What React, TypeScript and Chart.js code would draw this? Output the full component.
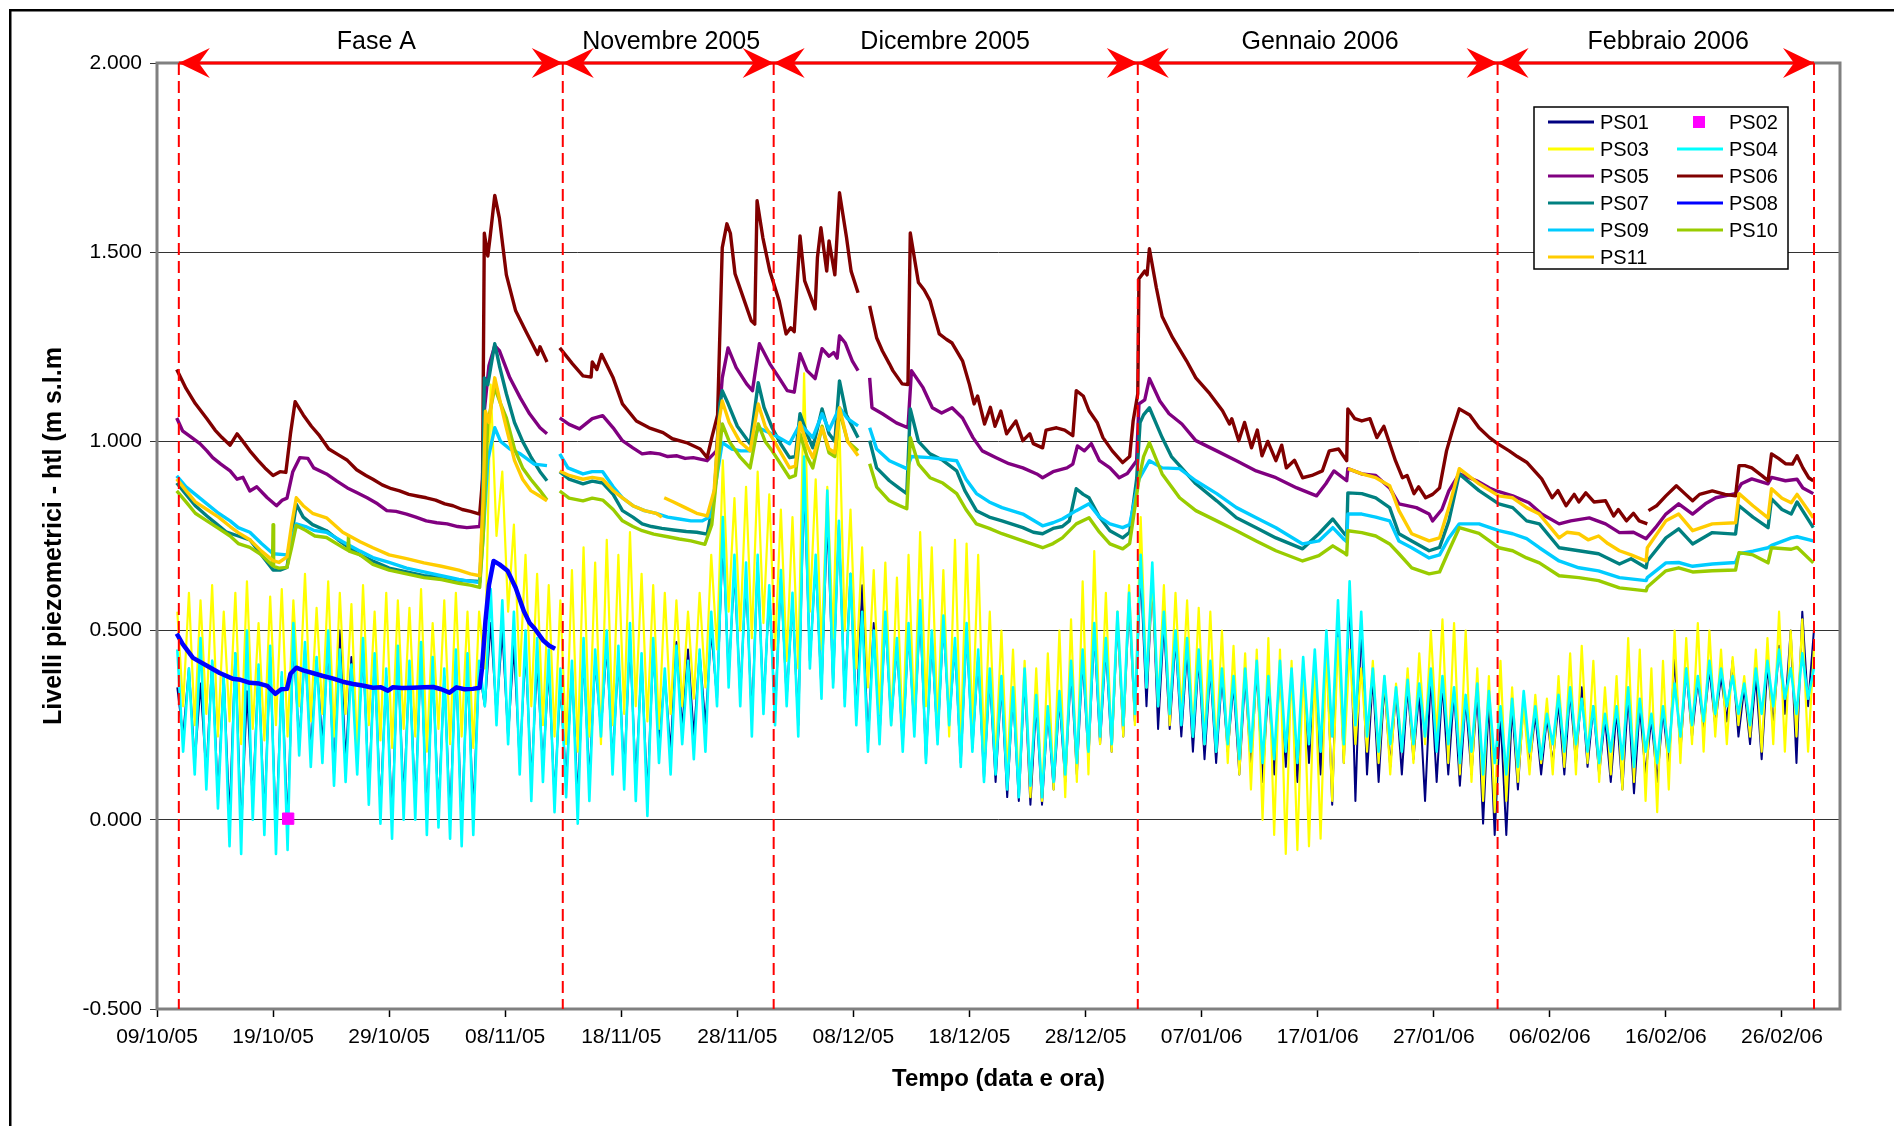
import React, { useEffect, useRef } from 'react';
import { Chart, registerables } from 'chart.js';

Chart.register(...registerables);

// ---------- axis / annotation data ----------
const BASE_DATE = Date.UTC(2005, 9, 9); // day 0 = 09/10/05
const X_MIN = 0;
const X_MAX = 145;
const X_TICKS = [0, 10, 20, 30, 40, 50, 60, 70, 80, 90, 100, 110, 120, 130, 140];
const Y_MIN = -0.5;
const Y_MAX = 2.0;
const Y_STEP = 0.5;

const SECTION_BOUNDS = [1.88, 34.96, 53.13, 84.5, 115.5, 142.76];
const SECTION_LABELS = ['Fase A', 'Novembre 2005', 'Dicembre 2005', 'Gennaio 2006', 'Febbraio 2006'];
const SECTION_LABEL_DAYS = [18.9, 44.3, 67.9, 100.2, 130.2];

const X_TITLE = 'Tempo (data e ora)';
const Y_TITLE = 'Livelli piezometrici - htl (m s.l.m';

// ---------- oscillating series: 12-hourly readings (peak, trough, ...) ----------
const OSC_START = 1.75;
const OSC_STEP = 0.5;

const ps01 = [
  0.35, 0.22, 0.40, 0.15, 0.36, 0.12, 0.42, 0.06, 0.38, 0.00, 0.44, -0.03, 0.34, 0.05, 0.40, 0.00, 0.43, -0.04, 0.38, -0.02,
  0.48, 0.20, 0.45, 0.18, 0.42, 0.20, 0.47, 0.12, 0.50, 0.15, 0.43, 0.18, 0.45, 0.08, 0.42, 0.03, 0.38, 0.00, 0.43, 0.05,
  0.40, 0.04, 0.44, 0.00, 0.41, 0.02, 0.38, 0.00, 0.42, -0.02, 0.40, 0.02, 0.40, 0.30, 0.52, 0.28, 0.50, 0.22, 0.46, 0.15,
  0.45, 0.10, 0.42, 0.14, 0.40, 0.06, 0.36, 0.10, 0.40, 0.05, 0.44, 0.10, 0.42, 0.24, 0.46, 0.15, 0.43, 0.12, 0.48, 0.10,
  0.42, 0.06, 0.45, 0.20, 0.38, 0.18, 0.47, 0.24, 0.45, 0.22, 0.44, 0.25, 0.50, 0.32, 0.75, 0.38, 0.66, 0.33, 0.64, 0.26,
  0.68, 0.30, 0.60, 0.28, 0.64, 0.32, 0.58, 0.25, 0.90, 0.42, 0.68, 0.34, 0.80, 0.36, 0.78, 0.32, 0.65, 0.27, 0.62, 0.20,
  0.52, 0.22, 0.53, 0.26, 0.46, 0.20, 0.50, 0.24, 0.55, 0.16, 0.48, 0.21, 0.52, 0.26, 0.46, 0.15, 0.50, 0.19, 0.43, 0.11,
  0.38, 0.10, 0.36, 0.06, 0.34, 0.05, 0.38, 0.04, 0.31, 0.04, 0.29, 0.08, 0.32, 0.10, 0.40, 0.12, 0.43, 0.16, 0.50, 0.20,
  0.46, 0.18, 0.53, 0.22, 0.58, 0.26, 0.66, 0.30, 0.64, 0.24, 0.52, 0.24, 0.48, 0.22, 0.45, 0.18, 0.43, 0.16, 0.40, 0.15,
  0.38, 0.18, 0.36, 0.12, 0.38, 0.14, 0.40, 0.10, 0.36, 0.12, 0.40, 0.14, 0.38, 0.10, 0.41, 0.15, 0.43, 0.12, 0.48, 0.04,
  0.55, 0.15, 0.60, 0.05, 0.52, 0.12, 0.38, 0.10, 0.36, 0.14, 0.34, 0.12, 0.35, 0.16, 0.34, 0.05, 0.38, 0.10, 0.36, 0.12,
  0.34, 0.09, 0.32, 0.12, 0.34, -0.01, 0.32, -0.04, 0.28, -0.04, 0.30, 0.08, 0.32, 0.14, 0.28, 0.12, 0.27, 0.15, 0.31, 0.12,
  0.34, 0.15, 0.35, 0.14, 0.30, 0.12, 0.27, 0.10, 0.29, 0.08, 0.33, 0.07, 0.30, 0.12, 0.27, 0.10, 0.29, 0.14, 0.43, 0.18,
  0.40, 0.22, 0.37, 0.24, 0.40, 0.25, 0.38, 0.26, 0.42, 0.22, 0.35, 0.20, 0.38, 0.16, 0.41, 0.25, 0.46, 0.28, 0.50, 0.15,
  0.55, 0.30, 0.50,
];

const ps03 = [
  0.55, 0.30, 0.60, 0.25, 0.58, 0.28, 0.62, 0.22, 0.55, 0.26, 0.60, 0.20, 0.63, 0.24, 0.52, 0.21, 0.59, 0.25, 0.61, 0.22,
  0.58, 0.30, 0.65, 0.26, 0.56, 0.28, 0.63, 0.22, 0.60, 0.28, 0.57, 0.18, 0.62, 0.25, 0.55, 0.21, 0.60, 0.19, 0.58, 0.24,
  0.56, 0.22, 0.61, 0.18, 0.52, 0.24, 0.58, 0.20, 0.60, 0.22, 0.55, 0.19, 0.55, 0.40, 1.15, 0.75, 0.92, 0.55, 0.78, 0.38,
  0.70, 0.30, 0.65, 0.25, 0.62, 0.22, 0.58, 0.20, 0.66, 0.18, 0.72, 0.22, 0.68, 0.20, 0.74, 0.25, 0.70, 0.28, 0.76, 0.30,
  0.65, 0.26, 0.62, 0.24, 0.60, 0.28, 0.58, 0.30, 0.55, 0.32, 0.60, 0.35, 0.70, 0.45, 0.95, 0.55, 0.85, 0.50, 0.88, 0.48,
  0.92, 0.52, 0.86, 0.45, 0.82, 0.42, 0.80, 0.40, 1.18, 0.55, 0.90, 0.45, 0.88, 0.48, 1.09, 0.50, 0.82, 0.40, 0.72, 0.35,
  0.66, 0.28, 0.68, 0.25, 0.64, 0.22, 0.70, 0.26, 0.76, 0.30, 0.72, 0.25, 0.66, 0.22, 0.74, 0.20, 0.73, 0.24, 0.70, 0.18,
  0.55, 0.15, 0.50, 0.12, 0.45, 0.08, 0.42, 0.06, 0.40, 0.05, 0.44, 0.08, 0.50, 0.06, 0.53, 0.10, 0.63, 0.12, 0.71, 0.20,
  0.60, 0.18, 0.55, 0.22, 0.62, 0.25, 0.80, 0.35, 0.64, 0.30, 0.62, 0.25, 0.60, 0.28, 0.58, 0.22, 0.56, 0.20, 0.55, 0.18,
  0.50, 0.15, 0.46, 0.12, 0.44, 0.08, 0.45, 0.00, 0.48, -0.04, 0.45, -0.09, 0.42, -0.08, 0.42, -0.07, 0.40, -0.05, 0.45, 0.05,
  0.48, 0.15, 0.45, 0.20, 0.40, 0.18, 0.42, 0.15, 0.38, 0.12, 0.36, 0.18, 0.40, 0.15, 0.44, 0.20, 0.50, 0.22, 0.53, 0.15,
  0.52, 0.12, 0.50, 0.10, 0.40, 0.05, 0.38, 0.02, 0.42, 0.05, 0.35, 0.10, 0.30, 0.12, 0.33, 0.15, 0.32, 0.12, 0.38, 0.14,
  0.44, 0.12, 0.46, 0.15, 0.42, 0.10, 0.35, 0.12, 0.38, 0.08, 0.48, 0.10, 0.45, 0.05, 0.40, 0.02, 0.42, 0.08, 0.50, 0.15,
  0.48, 0.20, 0.52, 0.18, 0.50, 0.22, 0.45, 0.20, 0.43, 0.25, 0.38, 0.22, 0.45, 0.18, 0.48, 0.20, 0.55, 0.18, 0.50, 0.22,
  0.53, 0.18, 0.45,
];

const ps04 = [
  0.45, 0.18, 0.40, 0.12, 0.48, 0.08, 0.42, 0.03, 0.38, -0.07, 0.44, -0.09, 0.50, 0.00, 0.41, -0.04, 0.46, -0.09, 0.39, -0.08,
  0.52, 0.17, 0.47, 0.14, 0.43, 0.15, 0.50, 0.09, 0.45, 0.10, 0.41, 0.12, 0.48, 0.04, 0.44, -0.01, 0.40, -0.05, 0.46, 0.00,
  0.42, 0.00, 0.47, -0.04, 0.43, -0.02, 0.40, -0.05, 0.45, -0.07, 0.44, -0.04, 0.42, 0.30, 0.61, 0.25, 0.58, 0.20, 0.55, 0.12,
  0.50, 0.05, 0.48, 0.10, 0.45, 0.02, 0.40, 0.06, 0.42, -0.01, 0.48, 0.05, 0.45, 0.22, 0.50, 0.12, 0.46, 0.08, 0.52, 0.05,
  0.44, 0.01, 0.48, 0.15, 0.40, 0.12, 0.46, 0.20, 0.42, 0.16, 0.45, 0.18, 0.55, 0.30, 0.80, 0.35, 0.70, 0.30, 0.68, 0.22,
  0.70, 0.28, 0.62, 0.25, 0.66, 0.30, 0.60, 0.22, 0.96, 0.40, 0.70, 0.32, 0.87, 0.35, 0.79, 0.30, 0.65, 0.25, 0.55, 0.18,
  0.50, 0.20, 0.55, 0.25, 0.48, 0.18, 0.52, 0.22, 0.58, 0.15, 0.50, 0.20, 0.54, 0.25, 0.48, 0.14, 0.52, 0.18, 0.45, 0.10,
  0.40, 0.12, 0.38, 0.08, 0.35, 0.06, 0.40, 0.09, 0.33, 0.06, 0.30, 0.10, 0.34, 0.12, 0.42, 0.15, 0.45, 0.18, 0.52, 0.22,
  0.48, 0.20, 0.55, 0.25, 0.60, 0.28, 0.70, 0.35, 0.68, 0.30, 0.55, 0.28, 0.50, 0.25, 0.48, 0.22, 0.45, 0.20, 0.42, 0.18,
  0.40, 0.20, 0.38, 0.16, 0.40, 0.18, 0.42, 0.15, 0.38, 0.16, 0.42, 0.18, 0.40, 0.15, 0.43, 0.20, 0.45, 0.18, 0.50, 0.22,
  0.58, 0.20, 0.63, 0.25, 0.55, 0.22, 0.40, 0.18, 0.38, 0.20, 0.35, 0.18, 0.37, 0.20, 0.36, 0.22, 0.40, 0.18, 0.38, 0.20,
  0.35, 0.15, 0.33, 0.18, 0.36, 0.12, 0.34, 0.15, 0.30, 0.12, 0.32, 0.14, 0.34, 0.18, 0.30, 0.16, 0.28, 0.20, 0.33, 0.18,
  0.35, 0.20, 0.32, 0.18, 0.30, 0.15, 0.28, 0.18, 0.30, 0.16, 0.35, 0.14, 0.32, 0.18, 0.28, 0.15, 0.30, 0.18, 0.36, 0.22,
  0.40, 0.25, 0.38, 0.26, 0.42, 0.28, 0.40, 0.30, 0.38, 0.28, 0.36, 0.25, 0.40, 0.28, 0.42, 0.30, 0.45, 0.32, 0.40, 0.28,
  0.44, 0.32, 0.40,
];

// ---------- single reading ----------
const ps02: [number, number][] = [[11.3, 0.003]];

// ---------- smooth series: [day, level] ----------
const ps05: [number, number | null][] = [
  [1.7, 1.062], [2.2, 1.028], [3.0, 1.01], [3.7, 0.994], [4.3, 0.975], [4.8, 0.957], [5.5, 0.94], [6.3, 0.922], [6.9, 0.9], [7.4, 0.905],
  [8.0, 0.869], [8.6, 0.88], [9.5, 0.851], [10.3, 0.83], [10.8, 0.845], [11.2, 0.85], [11.7, 0.92], [12.3, 0.957], [13.0, 0.955], [13.5, 0.93],
  [14.6, 0.914], [15.5, 0.895], [16.4, 0.877], [17.2, 0.865], [18.1, 0.851], [19.0, 0.835], [19.8, 0.817], [20.6, 0.815], [21.5, 0.808], [22.3, 0.8],
  [23.2, 0.79], [24.1, 0.785], [25.0, 0.782], [25.9, 0.775], [26.7, 0.772], [27.8, 0.775], [28.0, 0.85], [28.2, 1.081], [28.6, 1.2], [29.1, 1.253],
  [29.5, 1.24], [30.4, 1.168], [31.3, 1.115], [32.1, 1.073], [33.0, 1.036], [33.6, 1.02], [34.1, null], [34.7, 1.062], [35.5, 1.045], [36.4, 1.033],
  [37.5, 1.06], [38.4, 1.068], [39.3, 1.036], [40.1, 1.002], [41.0, 0.983], [41.8, 0.967], [42.5, 0.97], [43.3, 0.967], [44.0, 0.96], [44.8, 0.962],
  [45.5, 0.955], [46.2, 0.957], [47.4, 0.949], [48.2, 0.975], [48.7, 1.168], [49.2, 1.247], [49.9, 1.195], [50.8, 1.152], [51.3, 1.134], [51.9, 1.258],
  [52.8, 1.205], [53.6, 1.168], [54.3, 1.134], [54.9, 1.13], [55.4, 1.232], [56.0, 1.187], [56.7, 1.166], [57.3, 1.245], [57.9, 1.225], [58.3, 1.235],
  [58.6, 1.22], [58.8, 1.279], [59.3, 1.26], [59.9, 1.213], [60.4, 1.187], [60.9, null], [61.4, 1.168], [61.6, 1.089], [62.5, 1.073], [63.7, 1.049],
  [64.7, 1.036], [65.0, 1.187], [66.0, 1.142], [66.8, 1.089], [67.6, 1.075], [68.5, 1.089], [69.4, 1.062], [70.3, 1.01], [71.1, 0.975], [72.3, 0.957],
  [73.4, 0.941], [74.6, 0.93], [75.8, 0.914], [76.3, 0.904], [77.2, 0.92], [78.4, 0.93], [78.9, 0.94], [79.3, 0.988], [79.9, 0.975], [80.5, 0.994],
  [81.2, 0.949], [82.1, 0.93], [82.9, 0.904], [83.6, 0.915], [84.4, 0.949], [84.6, 1.099], [85.1, 1.11], [85.5, 1.166], [86.4, 1.107], [87.2, 1.073],
  [88.3, 1.046], [89.5, 1.002], [91.3, 0.975], [93.0, 0.949], [94.7, 0.922], [96.4, 0.904], [98.2, 0.877], [99.9, 0.856], [100.7, 0.888], [101.4, 0.922],
  [102.5, 0.896], [102.6, 0.928], [103.8, 0.914], [105.0, 0.91], [106.2, 0.877], [107.0, 0.835], [108.5, 0.825], [109.6, 0.808], [109.9, 0.79], [110.7, 0.82],
  [111.3, 0.869], [112.2, 0.914], [113.7, 0.896], [114.8, 0.877], [115.4, 0.869], [116.8, 0.856], [118.2, 0.838], [119.3, 0.808], [120.8, 0.782], [121.8, 0.79],
  [123.4, 0.798], [124.8, 0.782], [126.0, 0.759], [127.2, 0.76], [128.3, 0.743], [129.1, 0.772], [130.0, 0.808], [131.1, 0.835], [132.3, 0.808], [133.4, 0.835],
  [134.3, 0.851], [136.0, 0.862], [136.5, 0.888], [137.4, 0.901], [138.8, 0.888], [139.1, 0.905], [140.3, 0.896], [141.3, 0.9], [141.8, 0.877], [142.7, 0.862],
];

const ps06: [number, number | null][] = [
  [1.7, 1.19], [2.5, 1.14], [3.3, 1.1], [4.3, 1.06], [5.0, 1.03], [5.6, 1.01], [6.3, 0.99], [6.9, 1.02], [7.4, 1.0], [8.0, 0.975],
  [8.7, 0.95], [9.3, 0.93], [10.0, 0.91], [10.6, 0.92], [11.1, 0.918], [11.5, 1.02], [11.9, 1.105], [12.6, 1.07], [13.3, 1.04], [14.0, 1.015],
  [14.8, 0.98], [15.6, 0.965], [16.4, 0.95], [17.2, 0.925], [18.0, 0.91], [18.6, 0.9], [19.4, 0.885], [20.2, 0.875], [20.9, 0.869], [21.7, 0.86],
  [22.5, 0.855], [23.2, 0.851], [24.0, 0.845], [24.8, 0.835], [25.5, 0.83], [26.3, 0.82], [27.0, 0.815], [27.8, 0.808], [28.05, 0.9], [28.2, 1.55],
  [28.5, 1.49], [28.7, 1.54], [29.1, 1.65], [29.5, 1.59], [30.1, 1.44], [30.9, 1.345], [31.8, 1.29], [32.3, 1.26], [32.8, 1.23], [33.0, 1.25],
  [33.6, 1.21], [34.1, null], [34.7, 1.247], [35.8, 1.205], [36.7, 1.173], [37.4, 1.17], [37.5, 1.21], [37.9, 1.19], [38.3, 1.23], [39.3, 1.168],
  [40.1, 1.099], [41.3, 1.054], [42.4, 1.036], [43.6, 1.023], [44.4, 1.007], [45.6, 0.997], [46.8, 0.98], [47.4, 0.957], [47.8, 1.01], [48.3, 1.07],
  [48.7, 1.512], [49.1, 1.575], [49.4, 1.55], [49.8, 1.443], [50.6, 1.372], [51.2, 1.319], [51.5, 1.31], [51.7, 1.636], [52.2, 1.538], [52.8, 1.45],
  [53.6, 1.372], [54.2, 1.284], [54.6, 1.3], [54.9, 1.29], [55.4, 1.543], [55.8, 1.424], [56.7, 1.35], [56.9, 1.486], [57.2, 1.565], [57.7, 1.45],
  [57.9, 1.53], [58.4, 1.44], [58.8, 1.657], [59.4, 1.54], [59.8, 1.45], [60.4, 1.393], [60.9, null], [61.4, 1.358], [62.0, 1.274], [62.5, 1.239],
  [63.1, 1.205], [63.4, 1.187], [64.2, 1.152], [64.7, 1.15], [64.9, 1.551], [65.6, 1.42], [66.1, 1.4], [66.6, 1.372], [67.4, 1.284], [68.0, 1.27],
  [68.5, 1.26], [69.4, 1.213], [70.0, 1.15], [70.4, 1.099], [70.7, 1.12], [71.3, 1.046], [71.8, 1.09], [72.2, 1.04], [72.7, 1.08], [73.2, 1.02],
  [74.0, 1.054], [74.6, 1.002], [75.2, 1.02], [75.5, 0.994], [76.3, 0.983], [76.6, 1.03], [77.5, 1.036], [78.2, 1.03], [78.9, 1.015], [79.2, 1.134],
  [79.8, 1.12], [80.3, 1.081], [81.0, 1.05], [81.5, 1.01], [82.3, 0.975], [83.2, 0.944], [83.8, 0.96], [84.1, 1.054], [84.5, 1.126], [84.6, 1.43],
  [85.1, 1.45], [85.3, 1.44], [85.5, 1.509], [86.1, 1.406], [86.6, 1.33], [87.5, 1.274], [88.7, 1.213], [89.5, 1.168], [90.7, 1.126], [91.8, 1.081],
  [92.4, 1.046], [92.6, 1.06], [93.2, 1.002], [93.7, 1.05], [94.3, 0.983], [94.8, 1.03], [95.2, 0.962], [95.7, 1.0], [96.4, 0.949], [96.9, 0.99],
  [97.3, 0.93], [98.0, 0.95], [98.7, 0.904], [99.5, 0.91], [100.4, 0.922], [101.0, 0.975], [101.8, 0.98], [102.5, 0.949], [102.6, 1.086], [103.2, 1.06],
  [103.8, 1.054], [104.5, 1.06], [105.1, 1.01], [105.7, 1.04], [106.7, 0.949], [107.3, 0.904], [107.7, 0.91], [108.3, 0.862], [108.7, 0.88], [109.3, 0.851],
  [109.9, 0.86], [110.5, 0.877], [111.1, 0.975], [111.6, 1.028], [112.2, 1.086], [113.1, 1.07], [113.9, 1.036], [114.8, 1.01], [115.5, 0.994], [116.5, 0.975],
  [117.2, 0.96], [118.0, 0.945], [119.3, 0.901], [120.2, 0.851], [120.7, 0.87], [121.4, 0.83], [122.1, 0.86], [122.5, 0.84], [123.1, 0.864], [123.8, 0.84],
  [124.8, 0.843], [125.5, 0.803], [125.9, 0.82], [126.6, 0.79], [127.2, 0.81], [127.7, 0.79], [128.4, 0.782], [128.45, null], [128.5, 0.817], [129.2, 0.83],
  [130.0, 0.856], [130.9, 0.883], [131.7, 0.86], [132.3, 0.843], [132.9, 0.86], [134.0, 0.869], [135.1, 0.86], [136.0, 0.856], [136.3, 0.936], [136.8, 0.936],
  [137.4, 0.93], [138.3, 0.909], [138.8, 0.896], [139.1, 0.967], [139.7, 0.955], [140.3, 0.941], [140.9, 0.94], [141.3, 0.962], [141.8, 0.93], [142.3, 0.904],
  [142.7, 0.896],
];

const ps07: [number, number | null][] = [
  [1.7, 0.89], [2.5, 0.86], [3.3, 0.83], [4.3, 0.803], [5.2, 0.78], [6.0, 0.76], [7.0, 0.75], [8.0, 0.74], [9.0, 0.7], [10.0, 0.66],
  [10.6, 0.66], [11.2, 0.667], [11.6, 0.75], [12.0, 0.834], [12.6, 0.8], [13.4, 0.78], [14.6, 0.764], [15.6, 0.74], [16.5, 0.72], [17.5, 0.7],
  [18.6, 0.684], [20.0, 0.665], [21.5, 0.655], [23.0, 0.645], [24.5, 0.64], [25.5, 0.635], [26.5, 0.632], [27.8, 0.63], [28.0, 0.75], [28.2, 1.168],
  [28.5, 1.15], [29.1, 1.258], [29.5, 1.2], [30.1, 1.126], [30.8, 1.05], [31.5, 1.0], [32.2, 0.96], [33.0, 0.92], [33.6, 0.896], [34.1, null],
  [34.7, 0.92], [35.5, 0.9], [36.7, 0.888], [37.5, 0.895], [38.4, 0.89], [39.3, 0.86], [40.1, 0.817], [41.0, 0.8], [41.8, 0.782], [42.6, 0.775],
  [43.5, 0.77], [44.5, 0.766], [45.6, 0.762], [46.5, 0.76], [47.4, 0.755], [48.0, 0.85], [48.5, 1.1], [48.7, 1.134], [49.2, 1.1], [50.0, 1.04],
  [51.1, 0.994], [51.8, 1.155], [52.3, 1.09], [53.0, 1.036], [53.8, 0.99], [54.5, 0.957], [55.0, 0.96], [55.4, 1.073], [56.0, 1.02], [56.5, 0.983],
  [57.3, 1.086], [57.9, 1.02], [58.4, 1.0], [58.8, 1.16], [59.4, 1.07], [60.4, 1.01], [60.9, null], [61.4, 1.002], [62.0, 0.93], [63.1, 0.896],
  [64.0, 0.875], [64.6, 0.862], [64.9, 1.086], [65.6, 1.0], [66.6, 0.967], [67.7, 0.95], [68.9, 0.922], [69.6, 0.87], [70.6, 0.817], [71.7, 0.8],
  [72.8, 0.79], [73.8, 0.78], [74.6, 0.772], [75.5, 0.76], [76.3, 0.756], [77.2, 0.77], [78.0, 0.775], [78.6, 0.79], [79.2, 0.875], [79.8, 0.86],
  [80.3, 0.851], [81.2, 0.8], [82.1, 0.764], [83.2, 0.745], [83.8, 0.76], [84.4, 0.9], [84.7, 1.05], [85.0, 1.07], [85.5, 1.089], [86.6, 1.01],
  [87.4, 0.96], [88.1, 0.936], [89.5, 0.888], [91.3, 0.843], [93.0, 0.798], [94.7, 0.772], [96.4, 0.745], [98.7, 0.716], [100.1, 0.756], [101.3, 0.795],
  [102.3, 0.756], [102.5, 0.75], [102.6, 0.864], [103.8, 0.862], [105.0, 0.851], [106.2, 0.825], [107.0, 0.756], [108.1, 0.737], [109.6, 0.711], [110.5, 0.72],
  [111.3, 0.79], [112.2, 0.914], [113.9, 0.87], [115.6, 0.835], [116.8, 0.825], [118.0, 0.79], [119.1, 0.782], [120.8, 0.719], [122.5, 0.711], [124.2, 0.703],
  [126.0, 0.676], [127.0, 0.69], [128.3, 0.666], [128.4, 0.684], [130.0, 0.745], [131.1, 0.769], [132.3, 0.729], [134.0, 0.759], [136.0, 0.755], [136.3, 0.83],
  [137.5, 0.8], [138.8, 0.772], [139.1, 0.848], [140.0, 0.82], [140.8, 0.808], [141.3, 0.84], [142.7, 0.772],
];

const ps08: [number, number | null][] = [
  [1.7, 0.492], [2.2, 0.465], [3.1, 0.428], [4.3, 0.407], [5.4, 0.388], [6.5, 0.373], [7.2, 0.37], [8.0, 0.362], [8.8, 0.36], [9.5, 0.354],
  [10.2, 0.333], [10.7, 0.345], [11.2, 0.346], [11.5, 0.386], [12.0, 0.402], [12.6, 0.395], [13.4, 0.388], [14.3, 0.38], [15.2, 0.373], [16.0, 0.365],
  [16.9, 0.359], [17.7, 0.355], [18.6, 0.349], [19.3, 0.35], [19.9, 0.341], [20.3, 0.35], [21.1, 0.348], [22.0, 0.349], [23.0, 0.35], [23.8, 0.351],
  [24.5, 0.345], [25.2, 0.336], [25.8, 0.35], [26.5, 0.345], [27.2, 0.346], [27.8, 0.349], [28.0, 0.4], [28.3, 0.526], [28.6, 0.62], [29.0, 0.684],
  [29.5, 0.675], [30.2, 0.658], [30.9, 0.613], [31.6, 0.552], [32.1, 0.52], [32.5, 0.507], [33.3, 0.473], [33.8, 0.46], [34.3, 0.452],
];

const ps09: [number, number | null][] = [
  [1.7, 0.909], [2.5, 0.88], [3.3, 0.86], [4.3, 0.835], [5.3, 0.81], [6.3, 0.79], [7.0, 0.772], [8.0, 0.76], [9.0, 0.73], [10.0, 0.703],
  [11.2, 0.7], [11.6, 0.74], [12.0, 0.782], [12.8, 0.775], [13.5, 0.765], [14.6, 0.76], [16.0, 0.735], [17.5, 0.71], [18.6, 0.693], [20.0, 0.68],
  [21.5, 0.665], [23.0, 0.655], [24.5, 0.645], [26.0, 0.635], [27.0, 0.63], [27.8, 0.627], [28.1, 0.75], [28.5, 0.95], [29.1, 1.036], [29.6, 1.0],
  [30.4, 0.98], [31.3, 0.967], [32.5, 0.94], [33.6, 0.936], [34.1, null], [34.7, 0.967], [35.4, 0.93], [36.7, 0.914], [37.5, 0.92], [38.4, 0.92],
  [39.3, 0.88], [40.1, 0.851], [41.0, 0.83], [42.0, 0.817], [43.0, 0.81], [44.0, 0.8], [45.0, 0.795], [46.0, 0.79], [47.0, 0.79], [47.6, 0.8],
  [48.2, 0.9], [48.7, 0.997], [49.5, 0.98], [50.3, 0.975], [51.1, 0.975], [51.8, 1.036], [53.0, 1.02], [54.5, 0.994], [55.4, 1.046], [56.5, 1.01],
  [57.3, 1.073], [57.9, 1.03], [58.8, 1.089], [59.5, 1.06], [60.4, 1.041], [60.9, null], [61.4, 1.036], [62.0, 0.98], [63.1, 0.949], [64.6, 0.928],
  [65.0, 0.96], [66.6, 0.957], [68.9, 0.949], [69.7, 0.9], [70.6, 0.862], [71.7, 0.84], [72.8, 0.825], [74.6, 0.808], [76.3, 0.777], [77.2, 0.785],
  [78.0, 0.795], [79.2, 0.817], [80.3, 0.835], [81.2, 0.8], [82.1, 0.782], [83.2, 0.772], [83.8, 0.78], [84.6, 0.9], [85.5, 0.949], [86.6, 0.93],
  [88.1, 0.928], [89.5, 0.896], [91.3, 0.862], [93.0, 0.825], [94.7, 0.798], [96.4, 0.772], [98.7, 0.729], [100.1, 0.737], [101.3, 0.772], [102.3, 0.74],
  [102.5, 0.735], [102.6, 0.808], [103.8, 0.808], [105.0, 0.8], [106.2, 0.79], [107.0, 0.737], [108.1, 0.719], [109.6, 0.692], [110.5, 0.7], [111.3, 0.745],
  [112.2, 0.782], [113.9, 0.782], [115.6, 0.764], [116.8, 0.756], [118.0, 0.743], [119.1, 0.719], [120.8, 0.684], [122.5, 0.666], [124.2, 0.658], [126.0, 0.64],
  [128.3, 0.632], [128.4, 0.64], [130.0, 0.679], [131.1, 0.68], [132.3, 0.67], [134.0, 0.676], [136.0, 0.68], [136.3, 0.703], [137.5, 0.71], [138.8, 0.719],
  [139.1, 0.725], [140.8, 0.745], [141.3, 0.748], [142.7, 0.737],
];

const ps10: [number, number | null][] = [
  [1.7, 0.869], [2.5, 0.84], [3.3, 0.81], [4.3, 0.79], [5.3, 0.77], [6.3, 0.75], [7.0, 0.73], [8.0, 0.72], [9.0, 0.7], [9.95, 0.672],
  [10.0, 0.78], [10.05, 0.67], [10.5, 0.665], [11.2, 0.667], [11.6, 0.72], [12.0, 0.778], [12.8, 0.765], [13.6, 0.75], [14.6, 0.746], [16.0, 0.72],
  [16.45, 0.712], [16.5, 0.75], [16.55, 0.71], [17.5, 0.7], [18.6, 0.675], [20.0, 0.66], [21.5, 0.65], [23.0, 0.64], [24.5, 0.635], [26.0, 0.625],
  [27.0, 0.62], [27.8, 0.614], [28.1, 0.75], [28.5, 1.05], [29.1, 1.142], [29.6, 1.1], [30.1, 1.062], [30.8, 0.98], [31.5, 0.93], [32.2, 0.9],
  [33.0, 0.87], [33.6, 0.845], [34.1, null], [34.7, 0.869], [35.5, 0.85], [36.7, 0.843], [37.5, 0.85], [38.4, 0.845], [39.3, 0.82], [40.1, 0.79],
  [41.0, 0.775], [41.8, 0.764], [42.8, 0.755], [44.0, 0.748], [45.0, 0.742], [46.0, 0.737], [47.2, 0.728], [47.8, 0.78], [48.3, 0.93], [48.7, 1.046],
  [49.3, 1.0], [50.2, 0.96], [51.1, 0.93], [51.8, 1.046], [52.4, 1.0], [53.0, 0.975], [54.5, 0.904], [55.0, 0.91], [55.4, 1.02], [56.0, 0.96],
  [56.5, 0.93], [57.3, 1.04], [57.9, 0.97], [58.4, 0.96], [58.8, 1.08], [59.5, 1.0], [60.4, 0.975], [60.9, null], [61.4, 0.941], [62.0, 0.88],
  [63.1, 0.843], [64.0, 0.83], [64.6, 0.822], [64.9, 1.01], [65.6, 0.94], [66.6, 0.904], [67.7, 0.89], [68.9, 0.862], [69.7, 0.82], [70.6, 0.782],
  [71.7, 0.77], [72.8, 0.756], [74.6, 0.737], [76.3, 0.719], [77.2, 0.73], [78.0, 0.745], [79.2, 0.782], [80.3, 0.798], [81.2, 0.76], [82.1, 0.729],
  [83.2, 0.716], [83.8, 0.73], [84.6, 0.9], [85.0, 0.96], [85.5, 0.997], [86.6, 0.914], [88.1, 0.851], [89.5, 0.817], [91.3, 0.79], [93.0, 0.764],
  [94.7, 0.737], [96.4, 0.711], [98.7, 0.684], [100.1, 0.698], [101.3, 0.724], [102.3, 0.705], [102.5, 0.7], [102.6, 0.764], [103.8, 0.759], [105.0, 0.75],
  [106.2, 0.729], [107.0, 0.703], [108.1, 0.666], [109.6, 0.65], [110.5, 0.655], [111.3, 0.711], [112.2, 0.772], [113.9, 0.757], [115.6, 0.719], [116.8, 0.711],
  [118.0, 0.692], [119.1, 0.679], [120.8, 0.645], [122.5, 0.64], [124.2, 0.632], [126.0, 0.613], [128.3, 0.605], [128.4, 0.615], [130.0, 0.658], [131.1, 0.666],
  [132.3, 0.655], [134.0, 0.658], [136.0, 0.66], [136.3, 0.706], [137.5, 0.7], [138.8, 0.679], [139.1, 0.719], [140.8, 0.715], [141.3, 0.72], [142.7, 0.679],
];

const ps11: [number, number | null][] = [
  [1.7, 0.901], [2.5, 0.87], [3.3, 0.84], [4.3, 0.82], [5.3, 0.8], [6.3, 0.775], [7.0, 0.759], [8.0, 0.74], [9.0, 0.71], [10.0, 0.685],
  [10.5, 0.68], [11.2, 0.695], [11.6, 0.78], [12.0, 0.851], [12.6, 0.83], [13.4, 0.81], [14.6, 0.798], [16.0, 0.76], [17.5, 0.735], [18.6, 0.719],
  [20.0, 0.7], [21.5, 0.69], [23.0, 0.679], [24.5, 0.67], [26.0, 0.66], [27.0, 0.65], [27.8, 0.645], [28.1, 0.85], [28.3, 1.08], [28.6, 1.05],
  [29.1, 1.168], [29.6, 1.1], [30.1, 1.036], [30.8, 0.95], [31.5, 0.9], [32.2, 0.87], [33.0, 0.855], [33.6, 0.843], [34.1, null], [34.7, 0.922],
  [35.5, 0.91], [36.7, 0.9], [37.5, 0.905], [38.4, 0.9], [39.3, 0.87], [40.1, 0.851], [41.0, 0.83], [42.0, 0.817], [43.0, 0.81], [43.5, 0.8],
  [43.6, null], [43.7, 0.851], [44.5, 0.84], [45.5, 0.825], [46.5, 0.81], [47.4, 0.803], [48.0, 0.87], [48.4, 1.05], [48.7, 1.107], [49.3, 1.05],
  [50.2, 1.0], [51.1, 0.975], [51.8, 1.099], [52.4, 1.04], [53.0, 1.01], [54.5, 0.93], [55.0, 0.935], [55.4, 1.05], [56.0, 0.99], [56.5, 0.957],
  [57.3, 1.036], [57.9, 0.98], [58.4, 0.97], [58.8, 1.089], [59.5, 1.0], [60.4, 0.962], [60.9, null], [102.6, 0.928], [103.8, 0.914], [105.0, 0.904],
  [106.2, 0.883], [107.0, 0.817], [108.1, 0.756], [109.6, 0.737], [110.5, 0.745], [111.3, 0.825], [112.2, 0.928], [113.9, 0.888], [115.6, 0.856], [116.8, 0.851],
  [118.0, 0.825], [119.1, 0.808], [120.8, 0.745], [121.5, 0.76], [122.5, 0.756], [123.3, 0.74], [124.2, 0.75], [125.0, 0.73], [126.0, 0.711], [127.0, 0.7],
  [128.3, 0.684], [128.4, 0.719], [130.0, 0.79], [131.1, 0.808], [132.3, 0.764], [134.0, 0.782], [136.0, 0.785], [136.3, 0.862], [137.5, 0.83], [138.8, 0.798],
  [139.1, 0.875], [140.0, 0.85], [140.8, 0.838], [141.3, 0.86], [142.7, 0.798],
];

// ---------- series styling ----------
type Kind = 'line' | 'square';
const SERIES_NAMES = ['PS01', 'PS02', 'PS03', 'PS04', 'PS05', 'PS06', 'PS07', 'PS08', 'PS09', 'PS10', 'PS11'];
const SERIES_COLORS = ['#000080', '#FF00FF', '#FFFF00', '#00FFFF', '#800080', '#800000', '#008080', '#0000FF', '#00CCFF', '#99CC00', '#FFCC00'];
const SERIES_WIDTHS = [2, 0, 2.2, 2.6, 3.4, 3.4, 3.4, 4.5, 3.4, 3.4, 3.4];
const SERIES_KINDS: Kind[] = ['line', 'square', 'line', 'line', 'line', 'line', 'line', 'line', 'line', 'line', 'line'];

const FONT = '"Liberation Sans", Arial, Helvetica, sans-serif';

function oscPoints(vals: number[]) {
  return vals.map((v, k) => ({ x: OSC_START + k * OSC_STEP, y: v }));
}
function tuplePoints(vals: [number, number | null][]) {
  return vals.map(([x, y]) => ({ x, y }));
}

function fmtDay(d: number) {
  const dt = new Date(BASE_DATE + Math.round(d) * 86400000);
  const dd = String(dt.getUTCDate()).padStart(2, '0');
  const mm = String(dt.getUTCMonth() + 1).padStart(2, '0');
  const yy = String(dt.getUTCFullYear() % 100).padStart(2, '0');
  return `${dd}/${mm}/${yy}`;
}

const overlayPlugin = {
  id: 'overlay',
  beforeDraw(chart: any) {
    const ctx = chart.ctx;
    ctx.save();
    ctx.fillStyle = '#ffffff';
    ctx.fillRect(0, 0, chart.width, chart.height);
    // outer page frame (left + top visible)
    ctx.fillStyle = '#000000';
    ctx.fillRect(9, 9, chart.width - 9, 2.5);
    ctx.fillRect(9, 9, 2.5, chart.height - 9);
    ctx.restore();
  },
  afterDatasetsDraw(chart: any) {
    const ctx = chart.ctx;
    const a = chart.chartArea;
    const xs = chart.scales.x;
    const ys = chart.scales.y;
    ctx.save();
    // plot frame
    ctx.strokeStyle = '#808080';
    ctx.lineWidth = 3;
    ctx.strokeRect(a.left, a.top, a.right - a.left, a.bottom - a.top);

    // red dashed section lines
    ctx.strokeStyle = '#FF0000';
    ctx.lineWidth = 2;
    ctx.setLineDash([12, 6]);
    for (const d of SECTION_BOUNDS) {
      const px = xs.getPixelForValue(d);
      ctx.beginPath();
      ctx.moveTo(px, a.top);
      ctx.lineTo(px, a.bottom);
      ctx.stroke();
    }
    ctx.setLineDash([]);

    // red arrow line
    const yTop = ys.getPixelForValue(Y_MAX);
    const first = xs.getPixelForValue(SECTION_BOUNDS[0]);
    const last = xs.getPixelForValue(SECTION_BOUNDS[SECTION_BOUNDS.length - 1]);
    ctx.lineWidth = 3;
    ctx.beginPath();
    ctx.moveTo(first, yTop);
    ctx.lineTo(last, yTop);
    ctx.stroke();
    ctx.fillStyle = '#FF0000';
    const arrow = (tx: number, dir: number) => {
      ctx.beginPath();
      ctx.moveTo(tx, yTop);
      ctx.lineTo(tx + dir * 31, yTop - 15);
      ctx.lineTo(tx + dir * 20, yTop);
      ctx.lineTo(tx + dir * 31, yTop + 15);
      ctx.closePath();
      ctx.fill();
    };
    for (let i = 0; i < SECTION_BOUNDS.length - 1; i++) {
      arrow(xs.getPixelForValue(SECTION_BOUNDS[i]), 1);
      arrow(xs.getPixelForValue(SECTION_BOUNDS[i + 1]), -1);
    }

    // section labels
    ctx.fillStyle = '#000000';
    ctx.font = `25px ${FONT}`;
    ctx.textAlign = 'center';
    ctx.textBaseline = 'middle';
    SECTION_LABELS.forEach((t, i) => {
      ctx.fillText(t, xs.getPixelForValue(SECTION_LABEL_DAYS[i]), 42);
    });

    // axis titles
    ctx.font = `bold 24px ${FONT}`;
    ctx.fillText(X_TITLE, (a.left + a.right) / 2, 1079);
    ctx.save();
    ctx.translate(54, (a.top + a.bottom) / 2);
    ctx.rotate(-Math.PI / 2);
    ctx.font = `bold 25px ${FONT}`;
    ctx.fillText(Y_TITLE, 0, 0);
    ctx.restore();

    // legend
    const lx = 1534, ly = 107, lw = 254, lh = 162;
    ctx.fillStyle = '#ffffff';
    ctx.fillRect(lx, ly, lw, lh);
    ctx.strokeStyle = '#000000';
    ctx.lineWidth = 1.5;
    ctx.strokeRect(lx, ly, lw, lh);
    ctx.font = `20px ${FONT}`;
    ctx.textAlign = 'left';
    SERIES_NAMES.forEach((name, i) => {
      const col = i % 2;
      const row = Math.floor(i / 2);
      const cy = 122 + row * 27;
      const x0 = col === 0 ? 1548 : 1677;
      if (SERIES_KINDS[i] === 'square') {
        ctx.fillStyle = SERIES_COLORS[i];
        ctx.fillRect(x0 + 16, cy - 6, 12, 12);
      } else {
        ctx.strokeStyle = SERIES_COLORS[i];
        ctx.lineWidth = 3;
        ctx.beginPath();
        ctx.moveTo(x0, cy);
        ctx.lineTo(x0 + 46, cy);
        ctx.stroke();
      }
      ctx.fillStyle = '#000000';
      ctx.fillText(name, x0 + 52, cy + 1);
    });
    ctx.restore();
  },
};

export default function App() {
  const canvasRef = useRef<HTMLCanvasElement | null>(null);

  useEffect(() => {
    const canvas = canvasRef.current;
    if (!canvas) return;

    const seriesData: Record<string, { x: number; y: number | null }[]> = {
      PS01: oscPoints(ps01),
      PS02: tuplePoints(ps02),
      PS03: oscPoints(ps03),
      PS04: oscPoints(ps04),
      PS05: tuplePoints(ps05),
      PS06: tuplePoints(ps06),
      PS07: tuplePoints(ps07),
      PS08: tuplePoints(ps08),
      PS09: tuplePoints(ps09),
      PS10: tuplePoints(ps10),
      PS11: tuplePoints(ps11),
    };

    // later series drawn on top (as in the original): dataset 0 is drawn last in Chart.js
    const datasets = SERIES_NAMES.map((name, i) => {
      const isSquare = SERIES_KINDS[i] === 'square';
      return {
        label: name,
        data: seriesData[name],
        borderColor: SERIES_COLORS[i],
        backgroundColor: SERIES_COLORS[i],
        borderWidth: isSquare ? 1 : SERIES_WIDTHS[i],
        showLine: !isSquare,
        pointRadius: isSquare ? 8 : 0,
        pointStyle: isSquare ? 'rect' : 'circle',
        pointBorderWidth: isSquare ? 1 : 0,
        pointBackgroundColor: SERIES_COLORS[i],
        pointBorderColor: SERIES_COLORS[i],
        order: isSquare ? -1 : 0,
        tension: 0,
        spanGaps: false,
        borderJoinStyle: 'round' as const,
      };
    }).reverse();

    const chart = new Chart(canvas, {
      type: 'line',
      data: { datasets },
      plugins: [overlayPlugin],
      options: {
        animation: false,
        responsive: false,
        maintainAspectRatio: false,
        devicePixelRatio: 1,
        events: [],
        layout: { padding: { left: 0, top: 63, right: 54, bottom: 0 }, autoPadding: false } as any,
        plugins: { legend: { display: false }, tooltip: { enabled: false }, title: { display: false } },
        elements: { point: { radius: 0, hoverRadius: 0 }, line: { capBezierPoints: false } },
        scales: {
          x: {
            type: 'linear',
            min: X_MIN,
            max: X_MAX,
            afterBuildTicks: (scale: any) => {
              scale.ticks = X_TICKS.map((v) => ({ value: v }));
            },
            afterFit: (scale: any) => {
              scale.height = 117;
            },
            grid: { display: true, drawOnChartArea: false, drawTicks: true, tickLength: 8, tickColor: '#000000', tickWidth: 1.5 },
            border: { display: false },
            ticks: {
              autoSkip: false,
              maxRotation: 0,
              minRotation: 0,
              padding: 8,
              color: '#000000',
              font: { family: FONT, size: 21 },
              callback: (v: any) => fmtDay(Number(v)),
            },
          },
          y: {
            type: 'linear',
            min: Y_MIN,
            max: Y_MAX,
            afterFit: (scale: any) => {
              scale.width = 157;
            },
            grid: { color: '#333333', lineWidth: 1, drawTicks: true, tickLength: 7, tickColor: '#333333' },
            border: { display: false },
            ticks: {
              stepSize: Y_STEP,
              padding: 8,
              color: '#000000',
              font: { family: FONT, size: 21 },
              callback: (v: any) => Number(v).toFixed(3),
            },
          },
        },
      } as any,
    });

    return () => {
      chart.destroy();
    };
  }, []);

  return (
    <div style={{ position: 'fixed', left: 0, top: 0, width: 1894, height: 1126, background: '#ffffff' }}>
      <canvas ref={canvasRef} width={1894} height={1126} style={{ display: 'block', width: 1894, height: 1126 }} />
    </div>
  );
}
